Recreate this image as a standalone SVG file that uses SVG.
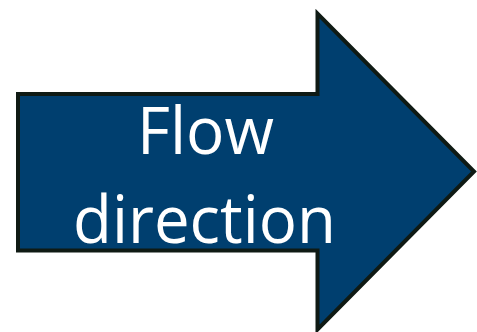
<svg xmlns="http://www.w3.org/2000/svg" width="477" height="332" viewBox="0 0 477 332">
<style>
.arrow{fill:#003f6f;stroke:#0f1a14;stroke-width:4;stroke-linejoin:miter;stroke-miterlimit:10}
.lbl{font-family:"Open Sans","Liberation Sans",sans-serif;font-size:66px;fill:#ffffff;text-anchor:middle}
</style>
<rect width="477" height="332" fill="#ffffff"/>
<g id="flow-arrow">
<polygon class="arrow" points="18,94 317.5,94 317.5,13.5 474,171.5 317.5,329.5 317.5,250.5 18,250.5"/>
<text class="lbl" x="205.5" y="154" textLength="137" lengthAdjust="spacingAndGlyphs">Flow</text>
<text class="lbl" x="204.5" y="243" textLength="263" lengthAdjust="spacingAndGlyphs">direction</text>
</g>
</svg>
